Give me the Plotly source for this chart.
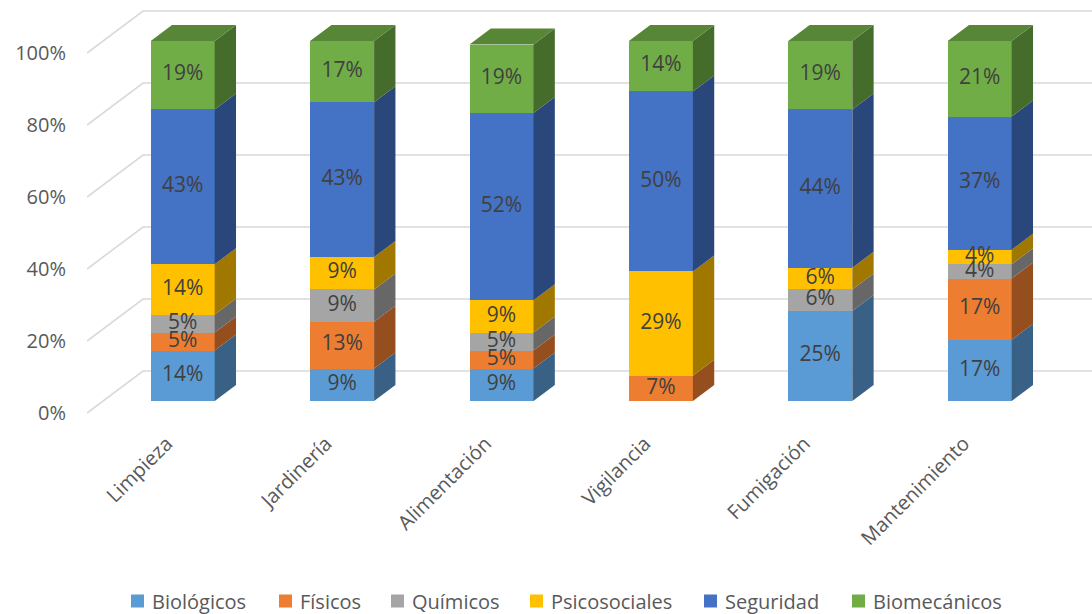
import plotly.graph_objects as go

# Risk distribution (%) by work area
categories = ["Limpieza", "Jardinería", "Alimentación", "Vigilancia", "Fumigación", "Mantenimiento"]
series_names = ["Biológicos", "Físicos", "Químicos", "Psicosociales", "Seguridad", "Biomecánicos"]
biologicos = [14, 9, 9, 0, 25, 17]
fisicos = [5, 13, 5, 7, 0, 17]
quimicos = [5, 9, 5, 0, 6, 4]
psicosociales = [14, 9, 9, 29, 6, 4]
seguridad = [43, 43, 52, 50, 44, 37]
biomecanicos = [19, 17, 19, 14, 19, 21]
y_ticks = [0, 0.2, 0.4, 0.6, 0.8, 1.0]

series_values = [biologicos, fisicos, quimicos, psicosociales, seguridad, biomecanicos]
front_colors = ["#5B9BD5", "#ED7D31", "#A5A5A5", "#FFC000", "#4472C4", "#70AD47"]


def shade(hex_color, k):
    r, g, b = (int(hex_color[i:i + 2], 16) for i in (1, 3, 5))
    return "rgb({},{},{})".format(int(r * k), int(g * k), int(b * k))


side_colors = [shade(c, 0.63) for c in front_colors]
top_colors = [shade(c, 0.78) for c in front_colors]

# Canvas / oblique projection settings
W, H = 1092, 614
ML, MR, MT, MB = 87, 0, 0, 198
PX_PER_CAT = 159.4
PX_PER_UNIT = 360.0
plot_w = W - ML - MR
plot_h = H - MT - MB
x_range = [-0.5, -0.5 + plot_w / PX_PER_CAT]
y_range = [-3 / PX_PER_UNIT, (plot_h - 3) / PX_PER_UNIT]

WALL_DX = 56 / PX_PER_CAT
WALL_DY = 42 / PX_PER_UNIT
F0, F1 = 12 / 42, 28 / 42
BAR_W = 64 / PX_PER_CAT
off_x, off_y = F0 * WALL_DX, F0 * WALL_DY
dep_x, dep_y = (F1 - F0) * WALL_DX, (F1 - F0) * WALL_DY

FONT = "Open Sans"
AXIS_GREY = "#595959"

fig = go.Figure()

# back-wall gridlines (oblique floor-to-wall lines)
shapes = []
for v in y_ticks:
    shapes.append(dict(
        type="path", xref="x", yref="y", layer="below",
        path="M {},{} L {},{} L {},{}".format(
            x_range[0], v, x_range[0] + WALL_DX, v + WALL_DY, x_range[1], v + WALL_DY),
        line=dict(color="#D9D9D9", width=1.6),
    ))

n = len(categories)
cum = [0.0] * n
tops = [None] * n
seg_info = []
for s, (name, vals) in enumerate(zip(series_names, series_values)):
    fr = [v / 100 for v in vals]
    xs = [i + off_x for i in range(n)]
    bases = [cum[i] + off_y for i in range(n)]
    fig.add_trace(go.Bar(
        x=xs, y=fr, base=bases, width=BAR_W, name=name,
        marker=dict(color=front_colors[s], line=dict(width=0)),
        hoverinfo="skip", showlegend=False,
    ))
    seg_info.append((s, fr, list(cum)))
    for i in range(n):
        if fr[i] > 0:
            tops[i] = (s, cum[i] + fr[i])
        cum[i] += fr[i]

# right-hand side faces
for s, fr, base in seg_info:
    px, py = [], []
    for i in range(n):
        if fr[i] <= 0:
            continue
        xr = i + off_x + BAR_W / 2
        b = base[i] + off_y
        t = base[i] + fr[i] + off_y
        px += [xr, xr + dep_x, xr + dep_x, xr, xr, None]
        py += [b, b + dep_y, t + dep_y, t, b, None]
    fig.add_trace(go.Scatter(
        x=px, y=py, mode="lines", fill="toself", fillcolor=side_colors[s],
        line=dict(width=0, color=side_colors[s]), showlegend=False, hoverinfo="skip",
    ))

# top faces
for i in range(n):
    s, t = tops[i]
    xl = i + off_x - BAR_W / 2
    xr = i + off_x + BAR_W / 2
    T = t + off_y
    fig.add_trace(go.Scatter(
        x=[xl, xr, xr + dep_x, xl + dep_x, xl],
        y=[T, T, T + dep_y, T + dep_y, T],
        mode="lines", fill="toself", fillcolor=top_colors[s],
        line=dict(width=0, color=top_colors[s]), showlegend=False, hoverinfo="skip",
    ))

# data labels centred on the front faces
for s, fr, base in seg_info:
    lx, ly, lt = [], [], []
    for i in range(n):
        if fr[i] <= 0:
            continue
        lx.append(i + off_x)
        ly.append(base[i] + fr[i] / 2 + off_y)
        lt.append("{}%".format(series_values[s][i]))
    fig.add_trace(go.Scatter(
        x=lx, y=ly, text=lt, mode="text",
        textfont=dict(family=FONT, size=21, color="#404040"),
        showlegend=False, hoverinfo="skip",
    ))

# legend row along the bottom: colour swatch + series name
legend_x = [131, 279, 391, 530, 704, 852]   # swatch left edges, px
legend_y = 601                                # row centre, px
SW = 13
annotations = []
for s, name in enumerate(series_names):
    x0 = legend_x[s]
    shapes.append(dict(
        type="rect", xref="paper", yref="paper",
        x0=(x0 - ML) / plot_w, x1=(x0 + SW - ML) / plot_w,
        y0=(plot_h - (legend_y + SW / 2 - MT)) / plot_h,
        y1=(plot_h - (legend_y - SW / 2 - MT)) / plot_h,
        fillcolor=front_colors[s], line=dict(width=0),
    ))
    annotations.append(dict(
        xref="paper", yref="paper", showarrow=False,
        x=(x0 + SW + 6 - ML) / plot_w, y=(plot_h - (legend_y - MT)) / plot_h,
        xanchor="left", yanchor="middle", text=name,
        font=dict(family=FONT, size=20, color=AXIS_GREY),
    ))

fig.update_layout(
    width=W, height=H,
    margin=dict(l=ML, r=MR, t=MT, b=MB),
    paper_bgcolor="white", plot_bgcolor="white",
    barmode="overlay", bargap=0,
    shapes=shapes, annotations=annotations,
    font=dict(family=FONT, size=20, color=AXIS_GREY),
    showlegend=False,
    xaxis=dict(
        range=x_range, showgrid=False, zeroline=False, showline=False,
        tickmode="array", tickvals=list(range(n)), ticktext=categories,
        tickangle=-45, ticks="", ticklabelstandoff=11,
        tickfont=dict(family=FONT, size=20, color=AXIS_GREY),
        fixedrange=True,
    ),
    yaxis=dict(
        range=y_range, showgrid=False, zeroline=False, showline=False,
        tickmode="array", tickvals=y_ticks, tickformat=".0%",
        ticks="", ticklabelstandoff=20,
        tickfont=dict(family=FONT, size=20, color=AXIS_GREY),
        fixedrange=True,
    ),
)

fig.write_html("out.html")
